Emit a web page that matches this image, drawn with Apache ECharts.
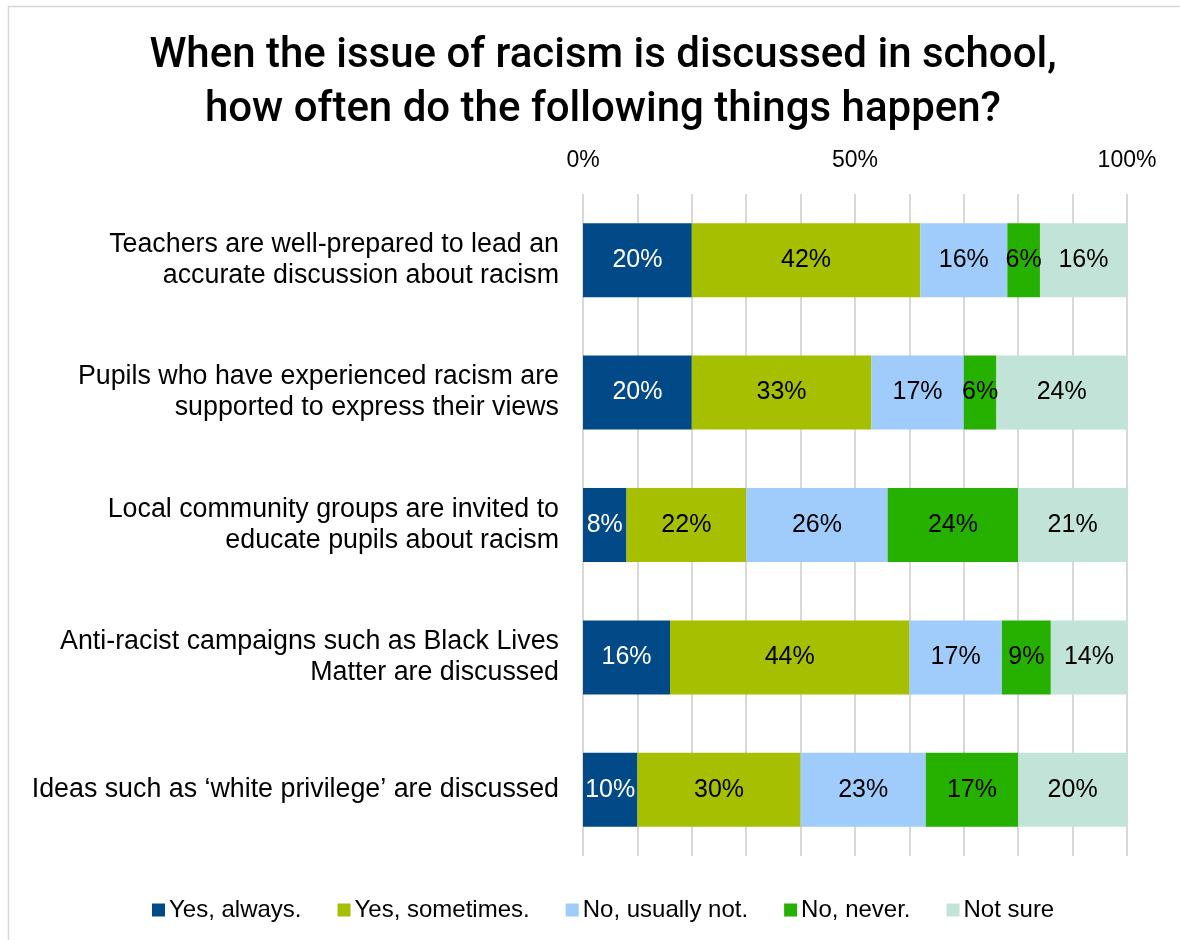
<!DOCTYPE html>
<html>
<head>
<meta charset="utf-8">
<script src="https://cdn.jsdelivr.net/npm/echarts@6/dist/echarts.min.js"></script>
<style>
  html, body { margin: 0; padding: 0; background: #fff; }
  #chart { width: 1180px; height: 940px; }
</style>
</head>
<body>
<div id="chart"></div>
<script>
// Survey statements, top to bottom
const categories = [
  'Teachers are well-prepared to lead an\naccurate discussion about racism',
  'Pupils who have experienced racism are\nsupported to express their views',
  'Local community groups are invited to\neducate pupils about racism',
  'Anti-racist campaigns such as Black Lives\nMatter are discussed',
  'Ideas such as \u2018white privilege\u2019 are discussed'
];

// Response shares (%), one array per answer
const yesAlways    = [20, 20, 8, 16, 10];
const yesSometimes = [42, 33, 22, 44, 30];
const noUsuallyNot = [16, 17, 26, 17, 23];
const noNever      = [6, 6, 24, 9, 17];
const notSure      = [16, 24, 21, 14, 20];

const seriesNames = ['Yes, always.', 'Yes, sometimes.', 'No, usually not.', 'No, never.', 'Not sure'];
const seriesData = [yesAlways, yesSometimes, noUsuallyNot, noNever, notSure];
const colors = ['#024A87', '#A6BF00', '#9FCCFA', '#26B000', '#C2E4D8'];
const labelColors = ['#ffffff', '#000000', '#000000', '#000000', '#000000'];

// Axis tick labels shown along the top
const axisTickLabels = ['0%', '50%', '100%'];

const chart = echarts.init(document.getElementById('chart'));

const series = seriesNames.map((name, i) => ({
  name: name,
  type: 'bar',
  stack: 'total',
  barWidth: 74,
  data: seriesData[i],
  itemStyle: { color: colors[i] },
  label: {
    show: true,
    position: 'inside',
    formatter: '{c}%',
    color: labelColors[i],
    fontFamily: 'Liberation Sans, Arial, sans-serif',
    fontSize: 25
  },
  emphasis: { disabled: true }
}));

chart.setOption({
  animation: false,
  backgroundColor: '#ffffff',
  graphic: [{
    type: 'rect',
    shape: { x: 8.5, y: 6.5, width: 1200, height: 1000 },
    style: { fill: 'none', stroke: '#d9d9d9', lineWidth: 1.5 },
    silent: true,
    z: -10
  }],
  title: {
    text: 'When the issue of racism is discussed in school,\nhow often do the following things happen?',
    left: 598,
    textAlign: 'center',
    top: 24,
    textStyle: {
      fontFamily: 'Roboto, sans-serif',
      fontWeight: 500,
      fontSize: 42,
      lineHeight: 54,
      color: '#000000'
    }
  },
  legend: {
    data: seriesNames,
    bottom: 13,
    left: 147,
    icon: 'rect',
    itemWidth: 13,
    itemHeight: 13,
    itemGap: 36,
    textStyle: {
      fontFamily: 'Liberation Sans, Arial, sans-serif',
      fontSize: 24,
      color: '#000000',
      padding: [0, 0, 0, -1]
    }
  },
  grid: {
    left: 583,
    right: 53,
    top: 194,
    bottom: 84,
    containLabel: false
  },
  xAxis: {
    type: 'value',
    position: 'top',
    min: 0,
    max: 100,
    interval: 10,
    axisLine: { show: false },
    axisTick: { show: false },
    splitLine: { show: true, lineStyle: { color: '#d9d9d9', width: 2 } },
    axisLabel: {
      margin: 22,
      fontFamily: 'Liberation Sans, Arial, sans-serif',
      fontSize: 23,
      color: '#000000',
      formatter: function (v) {
        const t = v + '%';
        return axisTickLabels.indexOf(t) >= 0 ? t : '';
      }
    }
  },
  yAxis: {
    type: 'category',
    data: categories,
    inverse: true,
    axisLine: { show: false },
    axisTick: { show: false },
    axisLabel: {
      margin: 24,
      align: 'right',
      fontFamily: 'Liberation Sans, Arial, sans-serif',
      fontSize: 26.8,
      lineHeight: 31,
      color: '#000000'
    }
  },
  series: series
});
</script>
</body>
</html>
